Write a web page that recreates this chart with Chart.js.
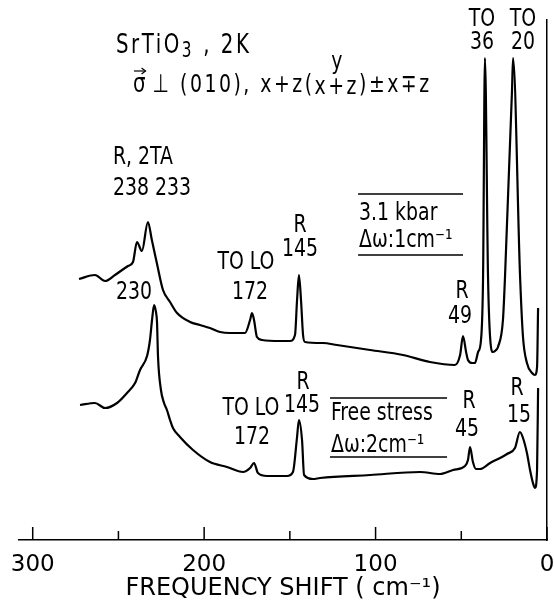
<!DOCTYPE html>
<html>
<head>
<meta charset="utf-8">
<script src="https://cdn.jsdelivr.net/npm/chart.js@4"></script>
<style>
  body { margin: 0; background: #fff; }
  #wrap { width: 554px; height: 607px; }
</style>
</head>
<body>
<div id="wrap"><canvas id="spectrum" width="554" height="607"></canvas></div>
<script>
// frequency shift (cm-1) and intensity (arb.)
const freqUpper = [273.0, 263.7, 257.8, 252.0, 244.4, 241.5, 239.2, 236.3, 232.8, 230.5, 227.6, 224.0, 219.9, 215.8, 208.2, 202.4, 196.6, 190.7, 184.9, 176.2, 173.2, 172.1, 170.9, 169.2, 166.2, 155.7, 149.9, 147.0, 145.8, 144.7, 143.5, 142.3, 141.2, 130.7, 122.5, 103.2, 84.0, 68.3, 53.7, 50.7, 49.0, 47.2, 46.1, 43.7, 42.0, 40.2, 38.5, 37.3, 36.2, 34.4, 33.2, 31.5, 29.7, 28.6, 25.7, 24.5, 20.4, 19.8, 15.7, 14.0, 11.7, 8.7, 7.0, 5.8, 5.2];
const intUpper = [261, 265, 259, 265, 274, 278, 298, 289, 318, 300, 277, 250, 238, 227, 218, 215, 212, 208, 207, 207, 220, 227, 220, 203, 200, 199, 199, 205, 240, 265, 240, 205, 198, 197, 195, 190, 185, 178, 175, 185, 204, 188, 180, 177, 177, 188, 200, 263, 482, 263, 203, 188, 190, 193, 220, 263, 450, 482, 263, 203, 177, 167, 165, 173, 232];

const freqLower = [272.4, 263.7, 257.8, 250.8, 245.0, 240.3, 237.4, 233.3, 231.6, 230.4, 229.2, 228.1, 227.5, 226.9, 225.2, 223.4, 221.7, 219.9, 218.2, 214.1, 206.5, 196.6, 186.7, 177.3, 173.2, 170.9, 168.6, 163.3, 151.7, 148.2, 145.8, 144.7, 142.9, 141.7, 136.5, 132.4, 103.2, 74.1, 62.4, 54.8, 47.8, 46.1, 44.9, 43.2, 41.4, 39.1, 33.2, 27.4, 23.3, 18.7, 15.8, 14.0, 11.7, 9.9, 8.2, 7.0, 5.8, 5.2];
const intLower = [135, 137, 132, 137, 147, 157, 170, 184, 200, 220, 235, 228, 218, 183, 150, 137, 130, 120, 112, 103, 90, 78, 73, 68, 72, 77, 67, 64, 64, 68, 103, 120, 100, 65, 61, 62, 65, 68, 66, 70, 74, 80, 93, 78, 71, 71, 77, 82, 86, 92, 108, 102, 87, 70, 57, 52, 70, 152];

const tickValues = [0, 50, 100, 150, 200, 250, 300];
const tickLabels = ['0', '', '100', '', '200', '', '300'];

// peak labels: [text, freq, intensity]
const peakLabels = [
  ['R, 2TA', 235.7, 383],
  ['238 233', 230.4, 352],
  ['230', 240.9, 248],
  ['TO LO', 175.6, 278],
  ['172', 173.2, 248],
  ['R', 144.1, 315],
  ['145', 144.1, 291],
  ['TO LO', 172.7, 132],
  ['172', 172.1, 103],
  ['R', 142.3, 158],
  ['145', 142.9, 135],
  ['R', 49.6, 249],
  ['49', 50.7, 224],
  ['R', 45.5, 139],
  ['45', 46.7, 111],
  ['R', 17.5, 152],
  ['15', 16.3, 125],
  ['TO', 37.9, 521],
  ['36', 37.9, 498],
  ['TO', 14.0, 521],
  ['20', 14.0, 498]
];

const FONT = '"DejaVu Sans Condensed", "DejaVu Sans", sans-serif';

function txt(ctx, s, x, y, size, align, spacing) {
  ctx.save();
  ctx.translate(x, y);
  ctx.scale(1, 1.2);
  ctx.font = size + 'px ' + FONT;
  ctx.letterSpacing = (spacing || 0) + 'px';
  ctx.textAlign = align || 'center';
  ctx.textBaseline = 'middle';
  ctx.fillStyle = '#000';
  ctx.fillText(s, 0, 0);
  const w = ctx.measureText(s).width;
  ctx.restore();
  return w;
}

function hline(ctx, x1, x2, y) {
  ctx.beginPath();
  ctx.moveTo(x1, y);
  ctx.lineTo(x2, y);
  ctx.stroke();
}

const annotate = {
  id: 'annotate',
  afterDraw(chart) {
    const ctx = chart.ctx;
    const xs = chart.scales.x, ys = chart.scales.y;
    const X = v => xs.getPixelForValue(v);
    const Y = v => ys.getPixelForValue(v);
    ctx.save();
    ctx.strokeStyle = '#000';
    ctx.lineWidth = 1.5;

    // tick marks pointing up into the plot
    tickValues.forEach(v => {
      const len = v % 100 === 0 ? 13 : 9;
      ctx.beginPath();
      ctx.moveTo(X(v), chart.chartArea.bottom);
      ctx.lineTo(X(v), chart.chartArea.bottom - len);
      ctx.stroke();
    });

    peakLabels.forEach(p => txt(ctx, p[0], X(p[1]), Y(p[2]), 21));

    // legends
    const u1 = X(110.2), u2 = X(49.0);
    hline(ctx, u1, u2, Y(346));
    txt(ctx, '3.1 kbar', u1 + 1, Y(327), 21, 'left');
    txt(ctx, 'Δω:1cm⁻¹', u1 + 1, Y(300), 21, 'left');
    hline(ctx, u1, u2, Y(285));

    const l1 = X(126.6), l2 = X(58.3);
    hline(ctx, l1, l2, Y(142));
    txt(ctx, 'Free stress', l1 + 1, Y(127), 21, 'left');
    txt(ctx, 'Δω:2cm⁻¹', l1 + 1, Y(95), 21, 'left');
    hline(ctx, l1, l2, Y(83));

    // title block
    let x = X(251.4), y = Y(494);
    x += txt(ctx, 'SrTiO', x, y, 22, 'left', 2.5);
    x += txt(ctx, '3', x, y + 6, 17, 'left') + 3;
    txt(ctx, ' , 2K', x, y, 22, 'left', 2.5);

    x = X(241.5); y = Y(455);
    const sw = txt(ctx, 'σ', x, y, 22, 'left');
    ctx.lineWidth = 1.2;
    hline(ctx, x + 1, x + sw, y - 14);
    ctx.beginPath();
    ctx.moveTo(x + sw - 4, y - 17);
    ctx.lineTo(x + sw, y - 14);
    ctx.lineTo(x + sw - 4, y - 11);
    ctx.stroke();
    x += sw + 7;
    x += txt(ctx, '⊥ (010), x+z(', x, y, 21, 'left', 2.5);
    const inner = txt(ctx, 'x+z', x, y + 2, 21, 'left', 2.5);
    txt(ctx, 'y', x + inner / 2, Y(478), 21, 'center');
    x += inner;
    txt(ctx, ')±x∓z', x, y, 21, 'left', 2.5);
    ctx.restore();
  }
};

new Chart(document.getElementById('spectrum'), {
  type: 'line',
  data: {
    datasets: [
      {
        label: '3.1 kbar',
        data: freqUpper.map((f, i) => ({ x: f, y: intUpper[i] })),
        borderColor: '#000',
        borderWidth: 2.2,
        pointRadius: 0,
        fill: false,
        cubicInterpolationMode: 'monotone'
      },
      {
        label: 'Free stress',
        data: freqLower.map((f, i) => ({ x: f, y: intLower[i] })),
        borderColor: '#000',
        borderWidth: 2.2,
        pointRadius: 0,
        fill: false,
        cubicInterpolationMode: 'monotone'
      }
    ]
  },
  options: {
    responsive: false,
    animation: false,
    devicePixelRatio: 1,
    layout: { padding: { left: 19, right: 7, top: 20, bottom: 0 } },
    plugins: { legend: { display: false }, tooltip: { enabled: false } },
    scales: {
      x: {
        type: 'linear',
        reverse: true,
        min: 0,
        max: 308,
        afterFit: s => { s.height = 67; },
        afterBuildTicks: s => { s.ticks = tickValues.map(v => ({ value: v })); },
        grid: { display: true, drawOnChartArea: false, drawTicks: false },
        border: { display: true, color: '#000', width: 1.5 },
        ticks: {
          autoSkip: false,
          maxRotation: 0,
          padding: 11,
          color: '#000',
          font: { family: 'DejaVu Sans', size: 23 },
          callback: v => tickLabels[tickValues.indexOf(v)] ?? ''
        },
        title: {
          display: true,
          text: 'FREQUENCY SHIFT ( cm⁻¹)',
          color: '#000',
          font: { family: 'DejaVu Sans', size: 24 },
          padding: { top: 0, bottom: 4 }
        }
      },
      y: {
        position: 'right',
        min: 0,
        max: 520,
        afterFit: s => { s.width = 0; },
        ticks: { display: false },
        grid: { display: true, drawOnChartArea: false, drawTicks: false },
        border: { display: true, color: '#000', width: 1.5 }
      }
    }
  },
  plugins: [annotate]
});
</script>
</body>
</html>
